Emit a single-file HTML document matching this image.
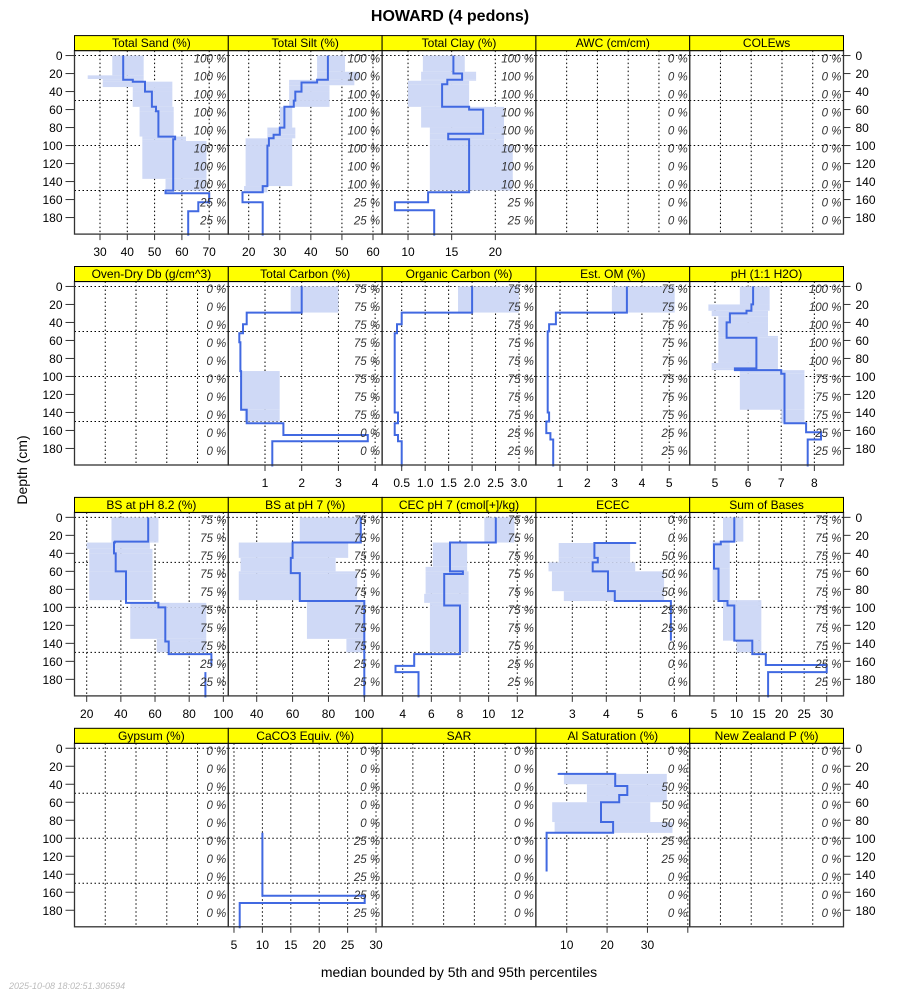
<!DOCTYPE html>
<html><head><meta charset="utf-8">
<style>
html,body{margin:0;padding:0;background:#fff;}
svg{display:block;font-family:"Liberation Sans",sans-serif;}
</style></head>
<body>
<svg id="chart" width="900" height="1000" viewBox="0 0 900 1000">
<text x="450" y="21" text-anchor="middle" font-size="16" font-weight="bold">HOWARD (4 pedons)</text>
<text x="27" y="470" text-anchor="middle" font-size="14" transform="rotate(-90 27 470)">Depth (cm)</text>
<text x="459" y="977" text-anchor="middle" font-size="14">median bounded by 5th and 95th percentiles</text>
<text x="9" y="989" font-size="9" font-style="italic" fill="#bbb">2025-10-08 18:02:51.306594</text>
</svg>
<script>
var n = null;
// ---- data: segments (depth breaks), lo (5th), med (median), hi (95th)
var sandD = [0,22,26,27,29,35,40,57,62,90,93,95,137,150,153,163,173,200];
var sandLo = [34.5,25.5,31,31,31,42,42,44.5,44.5,45.5,45.5,45.5,54,n,n,n,n];
var sandMed = [38.5,38.5,38.5,42,46.5,46.5,49,50.5,51.4,57.5,56.8,56.8,56.8,54,70,66,62.3];
var sandHi = [46,46,46,46,56.5,56.5,56.5,57,57,61.5,61.5,69,69,n,n,n,n];

var siltD = [0,18,27,30,33,40,50,57,80,88,92,100,145,152,163,200];
var siltLo = [42,42,33,33,33,33,33,30,26,26,19,19,18.5,n,n];
var siltMed = [45.5,45.5,42,37,37,35,34.5,31.5,30,28,26.5,26,24.5,18,24.5];
var siltHi = [51,55.5,54,54,46,46,46,34,35,35,34,34,26,n,n];

var clayD = [0,18,20,27,28,32,57,60,80,87,93,100,150,152,163,172,200];
var clayLo = [11.7,11.5,11.5,11.5,10,10,11.5,11.5,12.5,12.5,12.5,12.5,n,n,n,n];
var clayMed = [15.2,15.2,16.2,14.5,14.5,13.9,17,18.6,18.6,14.6,17,17,17,12.3,8.5,13];
var clayHi = [16.5,17.8,17.8,17.8,17,17,21,21,21,21,21,22,n,n,n,n];

var tcD = [0,29,42,52,62,94,137,150,152,165,172,200];
var tcLo = [1.7,n,n,n,n,0.35,0.45,n,n,n,n];
var tcMed = [2.0,0.5,0.4,0.3,0.33,0.35,0.5,0.5,1.5,3.8,1.2];
var tcHi = [3.0,n,n,n,n,1.4,1.4,n,n,n,n];

var ocD = [0,29,42,52,140,152,165,172,200];
var ocLo = [1.7,n,n,n,n,n,n,n];
var ocMed = [2.0,0.5,0.4,0.35,0.42,0.35,0.42,0.5];
var ocHi = [3.0,n,n,n,n,n,n,n];

var omD = [0,29,42,50,140,150,163,170,200];
var omLo = [2.9,n,n,n,n,n,n,n];
var omMed = [3.45,0.85,0.6,0.55,0.6,0.5,0.65,0.75];
var omHi = [5.2,n,n,n,n,n,n,n];

var phD = [0,20,27,30,33,40,55,57,85,91,93,97,137,152,162,170,200];
var phLo = [5.75,4.8,4.9,4.9,5.1,5.1,5.1,5.1,4.9,4.9,5.75,5.75,7.0,n,n,n];
var phMed = [6.15,6.1,5.95,5.45,5.45,5.35,5.35,6.25,6.25,5.6,7.0,7.1,7.1,7.75,8.2,7.8];
var phHi = [6.65,6.65,6.6,6.6,6.6,6.6,6.9,6.9,6.9,6.9,7.7,7.7,7.7,n,n,n];

var bs82D = [0,27,28,35,40,60,92,95,100,135,138,150,152,165,172,200];
var bs82Lo = [34.5,34.5,20,21.5,21.5,21.5,n,45.5,45.5,61,61,n,n,n,n];
var bs82Med = [56,36.5,36,36,37,43,43,62,66,66,68,68,93,n,89.5];
var bs82Hi = [62,62,57,58.5,58.5,58.5,n,90,90,90,90,n,n,n,n];

var bs7D = [0,28,45,60,62,92,93,135,150,200];
var bs7Lo = [64,30,31,30,30,68,68,90,n];
var bs7Med = [98,60,59,59,64,64,100,100,100];
var bs7Hi = [98,91,84,96,96,100,100,100,n];

var cecD = [0,28,55,60,63,85,95,98,150,152,165,172,200];
var cecLo = [9.7,6.1,5.6,5.6,5.6,5.5,5.9,5.9,n,n,n,n];
var cecMed = [10.5,7.3,7.3,8.2,6.9,6.9,6.9,8.0,8.0,4.8,3.5,5.1];
var cecHi = [11.8,8.5,8.5,8.6,8.6,8.6,8.6,8.6,n,n,n,n];

var ececD = [27.5,28.5,45,50,60,82,93,137];
var ececLo = [n,2.6,2.6,2.3,2.4,2.75,n];
var ececMed = [4.85,3.65,3.75,3.6,4.05,4.25,5.9];
var ececHi = [n,4.7,4.7,4.85,5.7,5.7,n];

var sbD = [0,27,30,57,92,93,98,137,150,152,164,172,200];
var sbLo = [7,4.7,4.7,4.7,7,7,7,10,n,n,n,n];
var sbMed = [9.5,6.5,5,6,6,8,9.5,13.5,13.5,16.5,30,17];
var sbHi = [11.5,8.5,8.5,8.5,15.5,15.5,15.5,15.5,n,n,n,n];

var caco3D = [94,164,172,200];
var caco3Lo = [n,n,n];
var caco3Med = [10,28,6];
var caco3Hi = [n,n,n];

var alD = [27.5,28.5,40,42,52,60,82,94,137];
var alLo = [n,9.3,15,15,15,6.4,7,n];
var alMed = [8,22,22,25,23,18.5,21.5,5];
var alHi = [n,34.8,34.8,34.8,34.8,30.7,36.2,n];

var emptyD = [], emptyV = [];

// ---- percent-of-pedons labels
var pct100_25 = ["100 %","100 %","100 %","100 %","100 %","100 %","100 %","100 %","25 %","25 %"];
var pct0 = ["0 %","0 %","0 %","0 %","0 %","0 %","0 %","0 %","0 %","0 %"];
var pct75_0 = ["75 %","75 %","75 %","75 %","75 %","75 %","75 %","75 %","0 %","0 %"];
var pct75_25 = ["75 %","75 %","75 %","75 %","75 %","75 %","75 %","75 %","25 %","25 %"];
var pctPH = ["100 %","100 %","100 %","100 %","100 %","75 %","75 %","75 %","25 %","25 %"];
var pctECEC = ["0 %","0 %","50 %","50 %","50 %","25 %","25 %","0 %","0 %","0 %"];
var pctCaCO3 = ["0 %","0 %","0 %","0 %","0 %","25 %","25 %","25 %","25 %","25 %"];
var pctAl = ["0 %","0 %","50 %","50 %","50 %","25 %","25 %","0 %","0 %","0 %"];

// ---- axis ticks
var sandTicks = [30,40,50,60,70];
var siltTicks = [20,30,40,50,60];
var clayTicks = [10,15,20];
var tcTicks = [1,2,3,4];
var ocTicks = [0.5,1.0,1.5,2.0,2.5,3.0];
var ocTickLabels = ["0.5","1.0","1.5","2.0","2.5","3.0"];
var omTicks = [1,2,3,4,5];
var phTicks = [5,6,7,8];
var bs82Ticks = [20,40,60,80,100];
var bs7Ticks = [40,60,80,100];
var cecTicks = [4,6,8,10,12];
var ececTicks = [3,4,5,6];
var sbTicks = [5,10,15,20,25,30];
var caco3Ticks = [5,10,15,20,25,30];
var alTicks = [10,20,30,40];
var alTickLabels = ["10","20","30",""];
var depthTicks = [0,20,40,60,80,100,120,140,160,180];
var depthGrid = [0,50,100,150];

var panels = [
 {id:"total-sand",t:"Total Sand (%)",c:0,r:0,dom:[20.66,77.0],tk:sandTicks,d:sandD,lo:sandLo,md:sandMed,hi:sandHi,p:pct100_25},
 {id:"total-silt",t:"Total Silt (%)",c:1,r:0,dom:[13.43,62.93],tk:siltTicks,d:siltD,lo:siltLo,md:siltMed,hi:siltHi,p:pct100_25},
 {id:"total-clay",t:"Total Clay (%)",c:2,r:0,dom:[7.03,24.65],tk:clayTicks,d:clayD,lo:clayLo,md:clayMed,hi:clayHi,p:pct100_25},
 {id:"awc",t:"AWC (cm/cm)",c:3,r:0,dom:null,tk:null,d:emptyD,lo:emptyV,md:emptyV,hi:emptyV,p:pct0},
 {id:"colews",t:"COLEws",c:4,r:0,dom:null,tk:null,d:emptyD,lo:emptyV,md:emptyV,hi:emptyV,p:pct0},
 {id:"oven-dry-db",t:"Oven-Dry Db (g/cm^3)",c:0,r:1,dom:null,tk:null,d:emptyD,lo:emptyV,md:emptyV,hi:emptyV,p:pct0},
 {id:"total-carbon",t:"Total Carbon (%)",c:1,r:1,dom:[0,4.19],tk:tcTicks,d:tcD,lo:tcLo,md:tcMed,hi:tcHi,p:pct75_0},
 {id:"organic-carbon",t:"Organic Carbon (%)",c:2,r:1,dom:[0.082,3.36],tk:ocTicks,tl:ocTickLabels,d:ocD,lo:ocLo,md:ocMed,hi:ocHi,p:pct75_25},
 {id:"est-om",t:"Est. OM (%)",c:3,r:1,dom:[0.118,5.75],tk:omTicks,d:omD,lo:omLo,md:omMed,hi:omHi,p:pct75_25},
 {id:"ph",t:"pH (1:1 H2O)",c:4,r:1,dom:[4.236,8.88],tk:phTicks,d:phD,lo:phLo,md:phMed,hi:phHi,p:pctPH},
 {id:"bs-ph82",t:"BS at pH 8.2 (%)",c:0,r:2,dom:[12.86,102.9],tk:bs82Ticks,d:bs82D,lo:bs82Lo,md:bs82Med,hi:bs82Hi,p:pct75_25},
 {id:"bs-ph7",t:"BS at pH 7 (%)",c:1,r:2,dom:[24.16,109.9],tk:bs7Ticks,d:bs7D,lo:bs7Lo,md:bs7Med,hi:bs7Hi,p:pct75_25},
 {id:"cec-ph7",t:"CEC pH 7 (cmol[+]/kg)",c:2,r:2,dom:[2.562,13.3],tk:cecTicks,d:cecD,lo:cecLo,md:cecMed,hi:cecHi,p:pct75_25},
 {id:"ecec",t:"ECEC",c:3,r:2,dom:[1.929,6.453],tk:ececTicks,d:ececD,lo:ececLo,md:ececMed,hi:ececHi,p:pctECEC},
 {id:"sum-of-bases",t:"Sum of Bases",c:4,r:2,dom:[-0.39,33.73],tk:sbTicks,d:sbD,lo:sbLo,md:sbMed,hi:sbHi,p:pct75_25},
 {id:"gypsum",t:"Gypsum (%)",c:0,r:3,dom:null,tk:null,d:emptyD,lo:emptyV,md:emptyV,hi:emptyV,p:pct0},
 {id:"caco3",t:"CaCO3 Equiv. (%)",c:1,r:3,dom:[4.0,31.07],tk:caco3Ticks,d:caco3D,lo:caco3Lo,md:caco3Med,hi:caco3Hi,p:pctCaCO3},
 {id:"sar",t:"SAR",c:2,r:3,dom:null,tk:null,d:emptyD,lo:emptyV,md:emptyV,hi:emptyV,p:pct0},
 {id:"al-saturation",t:"Al Saturation (%)",c:3,r:3,dom:[2.36,40.47],tk:alTicks,tl:alTickLabels,d:alD,lo:alLo,md:alMed,hi:alHi,p:pctAl},
 {id:"new-zealand-p",t:"New Zealand P (%)",c:4,r:3,dom:null,tk:null,d:emptyD,lo:emptyV,md:emptyV,hi:emptyV,p:pct0}
];

var svg = document.getElementById('chart');
var NS = "http://www.w3.org/2000/svg";
var colL = [74.5,228.3,382.1,535.9,689.7,843.5];
var rowTop = [50.6,281.5,512.4,743.3];
var PH = 183.5, SH = 15, DS = 0.9;
function mk(tag, attrs, parent){
  var e = document.createElementNS(NS, tag);
  for (var k in attrs) e.setAttribute(k, attrs[k]);
  (parent||svg).appendChild(e);
  return e;
}
function fmt(v){ return String(v); }

panels.forEach(function(p){
  var L = colL[p.c], R = colL[p.c+1], W = R-L, T = rowTop[p.r];
  var g = mk('g', {});
  
  
  function ys(d){ return T + (d + 5.5) * DS; }
  function xs(v){ return L + (v - p.dom[0]) / (p.dom[1] - p.dom[0]) * W; }
  // vertical grid
  var gx = [];
  if (p.dom) { p.tk.forEach(function(v){ gx.push(xs(v)); }); }
  else { for (var k=1;k<5;k++) gx.push(L + W*k/5); }
  gx.forEach(function(x){
    if (x > L+0.5 && x < R-0.5) {
      var gl = mk('line', {x1:x, x2:x, y1:T, y2:T+PH, stroke:'#000', 'stroke-width':1, 'stroke-dasharray':'1.5,2.5'}, g);
      
      
    }
  });
  depthGrid.forEach(function(d){
    var hl = mk('line', {x1:L, x2:R, y1:ys(d), y2:ys(d), stroke:'#000', 'stroke-width':1, 'stroke-dasharray':'1.5,2.5'}, g);
    
    
  });
  // band
  for (var i=0;i<p.md.length;i++){
    if (p.lo[i] != null && p.hi[i] != null){
      var x1 = xs(p.lo[i]), x2 = xs(p.hi[i]);
      var b = mk('rect', {x:Math.min(x1,x2), y:ys(p.d[i]), width:Math.max(0.5,Math.abs(x2-x1)), height:ys(p.d[i+1])-ys(p.d[i]), fill:'#cfd9f6', stroke:'none'}, g);
      
      
    }
  }
  // median
  var pts = "", paths = [];
  for (var i=0;i<p.md.length;i++){
    if (p.md[i] == null) { if (pts) { paths.push(pts); pts = ""; } continue; }
    var x = xs(p.md[i]);
    pts += (pts ? " L" : "M") + x.toFixed(1) + "," + ys(p.d[i]).toFixed(1) + " L" + x.toFixed(1) + "," + ys(p.d[i+1]).toFixed(1);
  }
  if (pts) paths.push(pts);
  paths.forEach(function(dstr){
    var ml = mk('path', {d:dstr, fill:'none', stroke:'#4169e1', 'stroke-width':2, 'stroke-linejoin':'miter'}, g);
    
    
  });
  // percent labels
  p.p.forEach(function(s, j){
    var t = mk('text', {x:R-2, y:ys(j*20+3)+4, 'text-anchor':'end', 'font-size':11.5, 'font-style':'italic', fill:'#333'}, g);
    t.textContent = s;
    
    
  });
  // frame
  var fr = mk('rect', {x:L, y:T, width:W, height:PH, fill:'none', stroke:'#333', 'stroke-width':1.3}, g);
  
  
  // strip
  var st = mk('rect', {x:L, y:T-SH, width:W, height:SH, fill:'#ffff00', stroke:'#000', 'stroke-width':1}, g);
  
  
  var stt = mk('text', {x:L+W/2, y:T-3.5, 'text-anchor':'middle', 'font-size':12}, g);
  stt.textContent = p.t;
  
  
  // x axis
  if (p.dom){
    p.tk.forEach(function(v, j){
      var x = xs(v);
      var tl = mk('line', {x1:x, x2:x, y1:T+PH, y2:T+PH+6, stroke:'#333', 'stroke-width':1}, g);
      
      
      var lab = p.tl ? p.tl[j] : fmt(v);
      if (lab){
        var tx = mk('text', {x:x, y:T+PH+22, 'text-anchor':'middle', 'font-size':12}, g);
        tx.textContent = lab;
        
        
      }
    });
  }
  // y axes
  if (p.c === 0 || p.c === 4){
    depthTicks.forEach(function(d){
      var y = ys(d);
      var left = p.c === 0;
      var yl = mk('line', {x1:left?L-9:R, x2:left?L:R+7, y1:y, y2:y, stroke:'#333', 'stroke-width':1}, g);
      
      
      var yt = mk('text', {x:left?L-12:R+12, y:y+4.5, 'text-anchor':left?'end':'start', 'font-size':12}, g);
      yt.textContent = String(d);
      
      
    });
  }
});
</script>
</body></html>
